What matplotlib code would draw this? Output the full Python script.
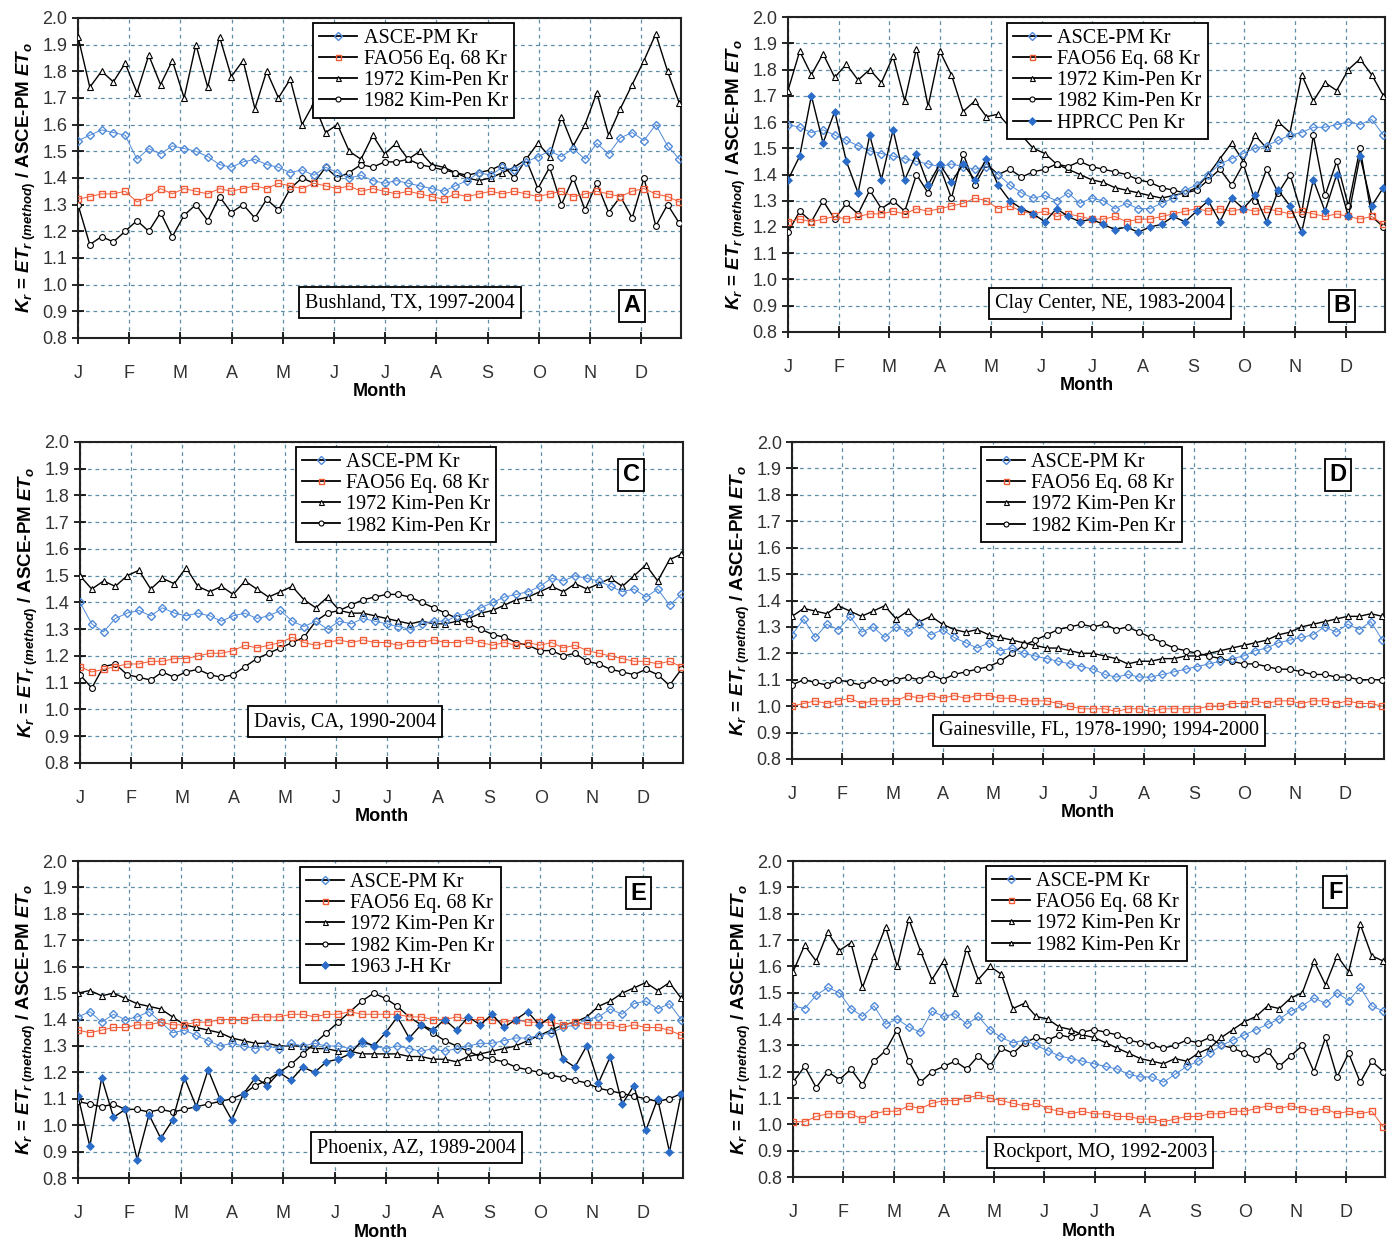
import numpy as np
import matplotlib
matplotlib.use("Agg")
import matplotlib.pyplot as plt
from matplotlib.lines import Line2D

plt.rcParams["font.family"] = "Liberation Sans"
plt.rcParams["mathtext.fontset"] = "custom"
plt.rcParams["mathtext.it"] = "Liberation Sans:italic:bold"
plt.rcParams["mathtext.rm"] = "Liberation Sans:bold"
plt.rcParams["mathtext.bf"] = "Liberation Sans:bold"

# weekly samples, day of year
days = np.arange(1, 359, 7)
months = ["J", "F", "M", "A", "M", "J", "J", "A", "S", "O", "N", "D"]
month_days = 1 + 30.4 * np.arange(12)

# ---- A: Bushland, TX
a_asce = [1.54, 1.56, 1.58, 1.57, 1.56, 1.47, 1.51, 1.49, 1.52, 1.51, 1.50, 1.48, 1.45,
          1.44, 1.46, 1.47, 1.45, 1.44, 1.42, 1.43, 1.41, 1.44, 1.42, 1.40, 1.41, 1.39,
          1.38, 1.39, 1.38, 1.37, 1.36, 1.35, 1.37, 1.39, 1.42, 1.41, 1.44, 1.43, 1.46,
          1.48, 1.50, 1.48, 1.51, 1.47, 1.53, 1.49, 1.55, 1.57, 1.54, 1.60, 1.52, 1.47]
a_fao = [1.32, 1.33, 1.34, 1.34, 1.35, 1.31, 1.33, 1.36, 1.34, 1.36, 1.35, 1.34, 1.36,
         1.35, 1.36, 1.37, 1.36, 1.38, 1.37, 1.36, 1.38, 1.37, 1.36, 1.37, 1.35, 1.36,
         1.35, 1.34, 1.35, 1.34, 1.33, 1.32, 1.34, 1.33, 1.34, 1.35, 1.34, 1.35, 1.34,
         1.33, 1.34, 1.35, 1.33, 1.34, 1.35, 1.34, 1.33, 1.35, 1.36, 1.34, 1.33, 1.31]
a_kp72 = [1.93, 1.74, 1.80, 1.76, 1.83, 1.72, 1.86, 1.75, 1.84, 1.70, 1.90, 1.74, 1.93,
          1.78, 1.84, 1.66, 1.80, 1.70, 1.77, 1.60, 1.68, 1.57, 1.60, 1.50, 1.47, 1.56,
          1.49, 1.53, 1.47, 1.50, 1.45, 1.44, 1.42, 1.40, 1.39, 1.40, 1.42, 1.44, 1.47,
          1.53, 1.48, 1.63, 1.52, 1.60, 1.72, 1.56, 1.66, 1.75, 1.84, 1.94, 1.80, 1.68]
a_kp82 = [1.30, 1.15, 1.18, 1.16, 1.20, 1.24, 1.20, 1.27, 1.18, 1.26, 1.30, 1.24, 1.33,
          1.27, 1.30, 1.25, 1.32, 1.28, 1.36, 1.40, 1.38, 1.44, 1.40, 1.42, 1.45, 1.44,
          1.46, 1.46, 1.47, 1.45, 1.44, 1.43, 1.42, 1.41, 1.42, 1.43, 1.45, 1.40, 1.47,
          1.36, 1.44, 1.30, 1.40, 1.28, 1.38, 1.27, 1.33, 1.25, 1.40, 1.22, 1.30, 1.23]

# ---- B: Clay Center, NE
b_asce = [1.59, 1.58, 1.56, 1.57, 1.55, 1.53, 1.51, 1.49, 1.48, 1.47, 1.46, 1.45, 1.44,
          1.43, 1.44, 1.43, 1.42, 1.43, 1.40, 1.36, 1.33, 1.31, 1.32, 1.30, 1.33, 1.29,
          1.31, 1.30, 1.27, 1.29, 1.27, 1.27, 1.29, 1.31, 1.34, 1.36, 1.40, 1.44, 1.46,
          1.48, 1.50, 1.51, 1.53, 1.55, 1.56, 1.58, 1.58, 1.59, 1.60, 1.59, 1.61, 1.55]
b_fao = [1.22, 1.23, 1.22, 1.23, 1.24, 1.23, 1.24, 1.25, 1.25, 1.26, 1.25, 1.27, 1.26,
         1.27, 1.28, 1.29, 1.31, 1.30, 1.27, 1.28, 1.26, 1.25, 1.26, 1.24, 1.25, 1.24,
         1.23, 1.23, 1.24, 1.22, 1.23, 1.23, 1.24, 1.25, 1.26, 1.27, 1.26, 1.27, 1.26,
         1.27, 1.26, 1.27, 1.26, 1.25, 1.26, 1.25, 1.24, 1.25, 1.24, 1.23, 1.24, 1.21]
b_kp72 = [1.72, 1.87, 1.78, 1.86, 1.77, 1.82, 1.76, 1.80, 1.75, 1.85, 1.68, 1.88, 1.66,
          1.87, 1.78, 1.64, 1.68, 1.62, 1.63, 1.58, 1.55, 1.50, 1.48, 1.44, 1.42, 1.40,
          1.38, 1.37, 1.35, 1.34, 1.33, 1.32, 1.31, 1.32, 1.33, 1.35, 1.40, 1.46, 1.52,
          1.45, 1.55, 1.50, 1.60, 1.56, 1.78, 1.68, 1.75, 1.72, 1.80, 1.84, 1.78, 1.70]
b_kp82 = [1.18, 1.26, 1.22, 1.30, 1.23, 1.29, 1.25, 1.34, 1.27, 1.30, 1.26, 1.40, 1.33,
          1.43, 1.31, 1.48, 1.36, 1.44, 1.40, 1.42, 1.39, 1.41, 1.42, 1.44, 1.43, 1.45,
          1.43, 1.42, 1.41, 1.40, 1.38, 1.37, 1.35, 1.34, 1.33, 1.34, 1.38, 1.42, 1.36,
          1.44, 1.30, 1.42, 1.33, 1.40, 1.25, 1.55, 1.32, 1.45, 1.28, 1.50, 1.24, 1.20]
b_hprcc = [1.38, 1.47, 1.70, 1.52, 1.64, 1.45, 1.33, 1.55, 1.38, 1.57, 1.38, 1.48, 1.36,
           1.44, 1.37, 1.44, 1.38, 1.46, 1.36, 1.30, 1.27, 1.25, 1.22, 1.27, 1.24, 1.22,
           1.23, 1.21, 1.19, 1.20, 1.18, 1.20, 1.21, 1.24, 1.22, 1.26, 1.30, 1.22, 1.31,
           1.27, 1.32, 1.22, 1.34, 1.28, 1.18, 1.38, 1.26, 1.40, 1.24, 1.47, 1.28, 1.35]

# ---- C: Davis, CA
c_asce = [1.40, 1.32, 1.29, 1.34, 1.36, 1.37, 1.35, 1.38, 1.36, 1.35, 1.36, 1.35, 1.33,
          1.35, 1.36, 1.34, 1.35, 1.37, 1.33, 1.31, 1.33, 1.30, 1.33, 1.32, 1.34, 1.33,
          1.32, 1.31, 1.30, 1.32, 1.33, 1.33, 1.35, 1.36, 1.38, 1.40, 1.42, 1.43, 1.44,
          1.46, 1.49, 1.48, 1.50, 1.49, 1.48, 1.46, 1.44, 1.45, 1.42, 1.45, 1.39, 1.43]
c_fao = [1.16, 1.14, 1.15, 1.16, 1.17, 1.17, 1.18, 1.18, 1.19, 1.19, 1.20, 1.21, 1.21,
         1.22, 1.24, 1.23, 1.24, 1.25, 1.27, 1.25, 1.24, 1.25, 1.26, 1.25, 1.26, 1.25,
         1.25, 1.24, 1.25, 1.25, 1.26, 1.25, 1.25, 1.26, 1.25, 1.24, 1.25, 1.24, 1.25,
         1.24, 1.25, 1.23, 1.24, 1.22, 1.21, 1.20, 1.19, 1.18, 1.18, 1.17, 1.18, 1.16]
c_kp72 = [1.50, 1.45, 1.48, 1.46, 1.50, 1.52, 1.45, 1.49, 1.47, 1.53, 1.46, 1.44, 1.46,
          1.43, 1.48, 1.45, 1.42, 1.44, 1.46, 1.41, 1.38, 1.42, 1.37, 1.36, 1.36, 1.35,
          1.34, 1.33, 1.32, 1.33, 1.32, 1.32, 1.33, 1.34, 1.36, 1.37, 1.39, 1.41, 1.42,
          1.44, 1.46, 1.44, 1.47, 1.45, 1.47, 1.49, 1.46, 1.50, 1.54, 1.48, 1.56, 1.58]
c_kp82 = [1.13, 1.08, 1.16, 1.17, 1.13, 1.12, 1.11, 1.14, 1.12, 1.14, 1.15, 1.13, 1.12,
          1.13, 1.16, 1.19, 1.21, 1.23, 1.25, 1.27, 1.33, 1.36, 1.37, 1.39, 1.41, 1.42,
          1.43, 1.43, 1.42, 1.40, 1.38, 1.36, 1.34, 1.32, 1.30, 1.28, 1.27, 1.25, 1.24,
          1.22, 1.22, 1.20, 1.21, 1.18, 1.17, 1.15, 1.14, 1.13, 1.15, 1.13, 1.09, 1.15]

# ---- D: Gainesville, FL
d_asce = [1.27, 1.33, 1.26, 1.31, 1.29, 1.34, 1.28, 1.30, 1.26, 1.30, 1.28, 1.31, 1.27,
          1.29, 1.26, 1.24, 1.22, 1.24, 1.21, 1.22, 1.20, 1.19, 1.18, 1.17, 1.16, 1.15,
          1.14, 1.12, 1.11, 1.12, 1.11, 1.11, 1.12, 1.13, 1.14, 1.15, 1.16, 1.17, 1.18,
          1.19, 1.21, 1.22, 1.24, 1.25, 1.26, 1.27, 1.30, 1.28, 1.31, 1.29, 1.32, 1.25]
d_fao = [1.00, 1.01, 1.02, 1.01, 1.02, 1.03, 1.01, 1.02, 1.02, 1.02, 1.04, 1.03, 1.04,
         1.03, 1.04, 1.03, 1.04, 1.04, 1.03, 1.03, 1.02, 1.02, 1.02, 1.01, 1.00, 0.99,
         0.99, 0.99, 0.98, 0.99, 0.99, 0.98, 0.99, 0.99, 0.99, 0.99, 1.00, 1.00, 1.01,
         1.01, 1.02, 1.01, 1.02, 1.02, 1.01, 1.02, 1.02, 1.01, 1.02, 1.01, 1.01, 1.00]
d_kp72 = [1.34, 1.37, 1.36, 1.35, 1.38, 1.36, 1.34, 1.36, 1.38, 1.33, 1.36, 1.32, 1.34,
          1.31, 1.29, 1.28, 1.29, 1.27, 1.26, 1.25, 1.24, 1.23, 1.22, 1.22, 1.21, 1.20,
          1.20, 1.19, 1.18, 1.16, 1.17, 1.17, 1.18, 1.18, 1.19, 1.19, 1.20, 1.21, 1.22,
          1.23, 1.24, 1.25, 1.27, 1.28, 1.30, 1.31, 1.32, 1.33, 1.34, 1.34, 1.35, 1.34]
d_kp82 = [1.08, 1.10, 1.09, 1.08, 1.10, 1.09, 1.08, 1.10, 1.09, 1.10, 1.11, 1.10, 1.12,
          1.10, 1.12, 1.13, 1.14, 1.15, 1.17, 1.20, 1.23, 1.25, 1.27, 1.29, 1.30, 1.31,
          1.30, 1.31, 1.29, 1.30, 1.28, 1.26, 1.24, 1.22, 1.21, 1.20, 1.19, 1.18, 1.17,
          1.16, 1.16, 1.15, 1.14, 1.14, 1.13, 1.12, 1.12, 1.11, 1.11, 1.10, 1.10, 1.10]

# ---- E: Phoenix, AZ
e_asce = [1.41, 1.43, 1.39, 1.42, 1.40, 1.41, 1.43, 1.39, 1.35, 1.36, 1.34, 1.32, 1.30,
          1.31, 1.30, 1.29, 1.30, 1.29, 1.31, 1.30, 1.31, 1.30, 1.30, 1.29, 1.31, 1.30,
          1.29, 1.30, 1.29, 1.28, 1.29, 1.28, 1.29, 1.30, 1.31, 1.31, 1.32, 1.33, 1.33,
          1.34, 1.35, 1.37, 1.38, 1.40, 1.41, 1.44, 1.42, 1.46, 1.47, 1.44, 1.46, 1.40]
e_fao = [1.36, 1.35, 1.36, 1.37, 1.37, 1.38, 1.38, 1.39, 1.38, 1.38, 1.39, 1.39, 1.40,
         1.40, 1.40, 1.41, 1.41, 1.41, 1.42, 1.42, 1.41, 1.42, 1.42, 1.43, 1.42, 1.42,
         1.42, 1.42, 1.41, 1.41, 1.40, 1.40, 1.41, 1.40, 1.40, 1.40, 1.39, 1.40, 1.39,
         1.39, 1.39, 1.38, 1.39, 1.38, 1.38, 1.38, 1.37, 1.38, 1.37, 1.37, 1.36, 1.34]
e_kp72 = [1.50, 1.51, 1.49, 1.50, 1.48, 1.46, 1.45, 1.44, 1.41, 1.38, 1.37, 1.36, 1.35,
          1.33, 1.32, 1.31, 1.31, 1.30, 1.30, 1.30, 1.29, 1.29, 1.28, 1.28, 1.27, 1.27,
          1.27, 1.27, 1.26, 1.26, 1.25, 1.25, 1.24, 1.26, 1.27, 1.28, 1.29, 1.30, 1.32,
          1.34, 1.36, 1.38, 1.39, 1.41, 1.45, 1.47, 1.50, 1.52, 1.54, 1.51, 1.54, 1.48]
e_kp82 = [1.09, 1.08, 1.07, 1.08, 1.06, 1.06, 1.05, 1.06, 1.05, 1.06, 1.07, 1.08, 1.09,
          1.10, 1.12, 1.15, 1.17, 1.20, 1.23, 1.27, 1.31, 1.35, 1.39, 1.43, 1.47, 1.50,
          1.48, 1.45, 1.41, 1.38, 1.35, 1.32, 1.30, 1.28, 1.26, 1.25, 1.24, 1.22, 1.21,
          1.20, 1.19, 1.18, 1.17, 1.16, 1.14, 1.13, 1.12, 1.11, 1.10, 1.09, 1.10, 1.12]
e_jh = [1.11, 0.92, 1.18, 1.03, 1.06, 0.87, 1.04, 0.95, 1.02, 1.18, 1.07, 1.21, 1.10,
        1.02, 1.12, 1.18, 1.15, 1.20, 1.17, 1.22, 1.20, 1.24, 1.25, 1.27, 1.32, 1.30,
        1.35, 1.41, 1.33, 1.38, 1.36, 1.40, 1.36, 1.41, 1.38, 1.42, 1.37, 1.40, 1.43,
        1.38, 1.41, 1.25, 1.22, 1.30, 1.16, 1.26, 1.08, 1.15, 0.98, 1.10, 0.90, 1.12]

# ---- F: Rockport, MO
f_asce = [1.45, 1.44, 1.49, 1.52, 1.50, 1.44, 1.41, 1.45, 1.38, 1.40, 1.37, 1.35, 1.43,
          1.41, 1.42, 1.38, 1.41, 1.36, 1.33, 1.31, 1.32, 1.30, 1.28, 1.26, 1.25, 1.24,
          1.23, 1.22, 1.21, 1.19, 1.18, 1.18, 1.16, 1.19, 1.22, 1.24, 1.27, 1.30, 1.32,
          1.34, 1.36, 1.38, 1.40, 1.43, 1.45, 1.48, 1.46, 1.50, 1.47, 1.52, 1.45, 1.43]
f_fao = [1.01, 1.01, 1.03, 1.04, 1.04, 1.04, 1.02, 1.04, 1.05, 1.05, 1.07, 1.06, 1.08,
         1.09, 1.09, 1.10, 1.11, 1.10, 1.09, 1.08, 1.07, 1.08, 1.06, 1.05, 1.04, 1.05,
         1.04, 1.04, 1.03, 1.03, 1.02, 1.02, 1.01, 1.02, 1.03, 1.03, 1.04, 1.04, 1.05,
         1.05, 1.06, 1.07, 1.06, 1.07, 1.06, 1.05, 1.06, 1.04, 1.05, 1.04, 1.05, 0.99]
f_kp72 = [1.58, 1.68, 1.62, 1.73, 1.66, 1.69, 1.52, 1.64, 1.75, 1.60, 1.78, 1.66, 1.55,
          1.62, 1.50, 1.67, 1.55, 1.60, 1.57, 1.44, 1.46, 1.41, 1.40, 1.37, 1.36, 1.34,
          1.33, 1.31, 1.29, 1.27, 1.25, 1.24, 1.23, 1.25, 1.24, 1.27, 1.29, 1.33, 1.36,
          1.39, 1.41, 1.45, 1.44, 1.48, 1.50, 1.62, 1.53, 1.64, 1.58, 1.76, 1.64, 1.62]
f_kp82 = [1.16, 1.22, 1.14, 1.20, 1.17, 1.21, 1.15, 1.24, 1.28, 1.36, 1.24, 1.16, 1.20,
          1.22, 1.24, 1.21, 1.26, 1.22, 1.29, 1.27, 1.31, 1.33, 1.32, 1.34, 1.33, 1.35,
          1.36, 1.35, 1.34, 1.32, 1.31, 1.30, 1.29, 1.30, 1.32, 1.31, 1.33, 1.30, 1.29,
          1.27, 1.25, 1.28, 1.22, 1.26, 1.30, 1.20, 1.33, 1.18, 1.27, 1.16, 1.24, 1.20]

BLUE = "#4f8ad8"
DBLUE = "#2a6cc8"
ORANGE = "#f05a36"
GRIDC = "#5f8fa6"

styles = {
    "asce": dict(marker="D", ms=4.2, mfc="none", mec=BLUE, color=BLUE, lw=0.7, mew=1.0),
    "fao": dict(marker="s", ms=4.2, mfc="none", mec=ORANGE, color=ORANGE, lw=0.7, mew=1.0),
    "kp72": dict(marker="^", ms=4.8, mfc="white", mec="k", color="k", lw=1.0, mew=0.8),
    "kp82": dict(marker="o", ms=4.2, mfc="white", mec="k", color="k", lw=1.0, mew=0.8),
    "extra": dict(marker="D", ms=4.0, mfc=DBLUE, mec=DBLUE, color="k", lw=1.0, mew=0.5),
}
base_labels = ["ASCE-PM Kr", "FAO56 Eq. 68 Kr", "1972 Kim-Pen Kr", "1982 Kim-Pen Kr"]

panels = [
    dict(rect=[0.056, 0.7279, 0.4329, 0.2577], letter="A", site="Bushland, TX, 1997-2004",
         series=[a_asce, a_fao, a_kp72, a_kp82], extra=None,
         leg=(0.39, 0.984), site_xy=(0.55, 0.11), let_xy=(0.919, 0.10)),
    dict(rect=[0.5657, 0.7327, 0.4286, 0.2536], letter="B", site="Clay Center, NE, 1983-2004",
         series=[b_asce, b_fao, b_kp72, b_kp82], extra=(b_hprcc, "HPRCC Pen Kr"),
         leg=(0.367, 0.981), site_xy=(0.54, 0.089), let_xy=(0.928, 0.083)),
    dict(rect=[0.0574, 0.3857, 0.4329, 0.2585], letter="C", site="Davis, CA, 1990-2004",
         series=[c_asce, c_fao, c_kp72, c_kp82], extra=None,
         leg=(0.358, 0.984), site_xy=(0.44, 0.128), let_xy=(0.914, 0.897)),
    dict(rect=[0.5686, 0.3889, 0.4250, 0.2552], letter="D",
         site="Gainesville, FL, 1978-1990; 1994-2000",
         series=[d_asce, d_fao, d_kp72, d_kp82], extra=None,
         leg=(0.319, 0.984), site_xy=(0.519, 0.091), let_xy=(0.922, 0.896)),
    dict(rect=[0.0560, 0.0515, 0.4343, 0.2552], letter="E", site="Phoenix, AZ, 1989-2004",
         series=[e_asce, e_fao, e_kp72, e_kp82], extra=(e_jh, "1963 J-H Kr"),
         leg=(0.367, 0.981), site_xy=(0.56, 0.095), let_xy=(0.926, 0.899)),
    dict(rect=[0.5693, 0.0523, 0.4250, 0.2544], letter="F", site="Rockport, MO, 1992-2003",
         series=[f_asce, f_fao, f_kp72, f_kp82], extra=None,
         leg=(0.326, 0.984), site_xy=(0.519, 0.079), let_xy=(0.916, 0.902)),
]

fig = plt.figure(figsize=(13.93, 12.42), dpi=100)
yticks = np.round(np.arange(0.8, 2.01, 0.1), 1)
ylabel = r"$K_r$ = $ET_{r\ (method)}$ / ASCE-PM $ET_o$"

for p in panels:
    ax = fig.add_axes(p["rect"])
    asce, fao, kp72, kp82 = p["series"]
    ax.plot(days, kp72, **styles["kp72"], zorder=3)
    ax.plot(days, kp82, **styles["kp82"], zorder=3)
    ax.plot(days, asce, **styles["asce"], zorder=4)
    ax.plot(days, fao, **styles["fao"], zorder=4)
    handles = []
    for key in ["asce", "fao", "kp72", "kp82"]:
        st = dict(styles[key])
        st["color"] = "k"
        st["lw"] = 1.3
        st["ms"] = 3.6
        if p["letter"] == "F" and key == "kp82":
            st["marker"] = "^"
            st["ms"] = 3.2
        handles.append(Line2D([], [], **st))
    labels = list(base_labels)
    if p["extra"] is not None:
        vals, lab = p["extra"]
        ax.plot(days, vals, **styles["extra"], zorder=5)
        handles.append(Line2D([], [], **dict(styles["extra"], lw=1.3, ms=3.6)))
        labels.append(lab)

    ax.set_xlim(1, 359)
    ax.set_ylim(0.8, 2.0)
    ax.set_xticks(month_days)
    ax.set_xticklabels(months)
    ax.set_yticks(yticks)
    ax.set_yticklabels([f"{v:.1f}" for v in yticks])
    ax.tick_params(axis="x", direction="inout", length=9, width=1.2, pad=15,
                   labelsize=13, labelcolor="#333333")
    ax.tick_params(axis="y", direction="inout", length=9, width=1.2, pad=3,
                   labelsize=13, labelcolor="#333333")
    ax.grid(True, ls=(0, (3, 3)), color=GRIDC, lw=0.9)
    ax.set_axisbelow(True)
    for s in ax.spines.values():
        s.set_linewidth(1.5)
        s.set_color("#222222")
    ax.set_xlabel("Month", fontsize=13, fontweight="bold", labelpad=1)
    ax.set_ylabel(ylabel, fontsize=13.5, fontweight="bold", labelpad=3)

    leg = ax.legend(handles, labels, loc="upper left", bbox_to_anchor=p["leg"],
                    prop=dict(family="Liberation Serif", size=14.5), fancybox=False,
                    edgecolor="k", framealpha=1, borderpad=0.3, labelspacing=0.1,
                    handlelength=1.9, handletextpad=0.3, borderaxespad=0)
    leg.get_frame().set_linewidth(1.3)
    leg.set_zorder(10)

    ax.text(*p["site_xy"], p["site"], transform=ax.transAxes, ha="center", va="center",
            family="Liberation Serif", fontsize=14.5, zorder=10,
            bbox=dict(boxstyle="square,pad=0.3", fc="white", ec="k", lw=1.3))
    ax.text(*p["let_xy"], p["letter"], transform=ax.transAxes, ha="center", va="center",
            fontsize=17, fontweight="bold", zorder=10,
            bbox=dict(boxstyle="square,pad=0.2", fc="white", ec="k", lw=1.3))

fig.savefig("out.png", dpi=100)
